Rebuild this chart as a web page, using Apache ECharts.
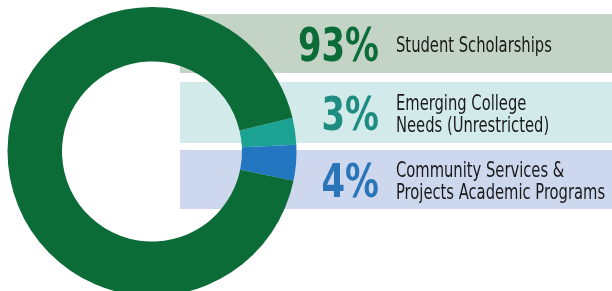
<!DOCTYPE html>
<html>
<head>
<meta charset="utf-8">
<script src="https://cdn.jsdelivr.net/npm/echarts@6/dist/echarts.min.js"></script>
<style>
  html, body { margin: 0; padding: 0; background: #fff; }
  #chart { width: 612px; height: 291px; }
</style>
</head>
<body>
<div id="chart"></div>
<script>
// 数据
const categories = ['Emerging College\nNeeds (Unrestricted)', 'Community Services &\nProjects Academic Programs', 'Student Scholarships'];
const values = [3, 4, 93];
const sliceColors = ['#1ba293', '#2277c0', '#0b6c38'];
const pctColors = ['#1e8c80', '#2a74b8', '#0b6c38'];
const bandColors = ['#d2ebea', '#cdd8ee', '#c3d3c5'];

// 各行的位置（上到下：93%, 3%, 4%）
const rows = [
  { idx: 2, top: 14, bottom: 73 },
  { idx: 0, top: 82, bottom: 143 },
  { idx: 1, top: 150, bottom: 209 }
];

const chart = echarts.init(document.getElementById('chart'));

const graphics = [];
rows.forEach(r => {
  const cy = (r.top + r.bottom) / 2;
  graphics.push({
    type: 'rect', z: -10,
    shape: { x: 180, y: r.top, width: 440, height: r.bottom - r.top },
    style: { fill: bandColors[r.idx] }
  });
  graphics.push({
    type: 'text', z: 10,
    x: 379, y: cy + 5,
    scaleX: 0.8,
    style: {
      text: values[r.idx] + '%',
      font: 'bold 47px "DejaVu Sans Condensed", sans-serif',
      fill: pctColors[r.idx],
      align: 'right', verticalAlign: 'middle'
    }
  });
  graphics.push({
    type: 'text', z: 10,
    x: 396, y: cy + 3,
    scaleX: 0.78,
    style: {
      text: categories[r.idx],
      font: '21px "DejaVu Sans Condensed", sans-serif',
      lineHeight: 22,
      fill: '#1a1a1a',
      align: 'left', verticalAlign: 'middle'
    }
  });
});

chart.setOption({
  animation: false,
  graphic: graphics,
  series: [{
    type: 'pie',
    z: 5,
    center: [152, 151.5],
    radius: [90, 144.5],
    startAngle: 13.5,
    clockwise: true,
    label: { show: false },
    labelLine: { show: false },
    emphasis: { disabled: true },
    itemStyle: { borderWidth: 0 },
    data: values.map((v, i) => ({ value: v, name: categories[i], itemStyle: { color: sliceColors[i] } }))
  }]
});
</script>
</body>
</html>
